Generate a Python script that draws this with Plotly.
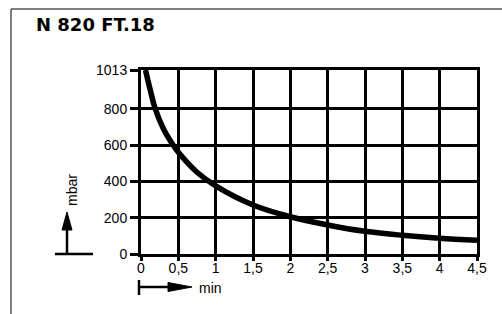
import plotly.graph_objects as go

# data
time_min = [0.06, 0.12, 0.19, 0.3, 0.43, 0.5, 0.75, 1.0, 1.5, 2.0, 2.5, 3.0, 3.5, 4.0, 4.5]
pressure_mbar = [1013, 910, 800, 690, 600, 560, 450, 375, 270, 205, 160, 125, 103, 87, 76]
x_ticks = [0, 0.5, 1, 1.5, 2, 2.5, 3, 3.5, 4, 4.5]
x_ticklabels = ["0", "0,5", "1", "1,5", "2", "2,5", "3", "3,5", "4", "4,5"]
y_ticks = [0, 200, 400, 600, 800, 1013]
y_ticklabels = ["0", "200", "400", "600", "800", "1013"]

W, H = 502, 314
L, R, T, B = 141, 25, 70, 60
PW, PH = W - L - R, H - T - B

def px(x):
    return (x - L) / PW

def py(y):
    return (H - B - y) / PH

FONT = "Liberation Sans, Arial, sans-serif"

fig = go.Figure()
fig.add_trace(go.Scatter(x=time_min, y=pressure_mbar, mode="lines",
                         line=dict(color="black", width=5.5, shape="spline", smoothing=1.0),
                         hoverinfo="skip", cliponaxis=True))

axis_common = dict(showgrid=True, gridcolor="black", gridwidth=3, showline=True,
                   linecolor="black", linewidth=3, mirror=True, zeroline=False,
                   ticks="outside", tickcolor="black", tickwidth=3,
                   tickfont=dict(family=FONT, size=14, color="black"))

fig.update_xaxes(range=[0, 4.5], tickmode="array", tickvals=x_ticks, ticktext=x_ticklabels,
                 ticklen=4, ticklabelstandoff=-5, **axis_common)
fig.update_yaxes(range=[0, 1013], tickmode="array", tickvals=y_ticks, ticktext=y_ticklabels,
                 ticklen=8, **axis_common)

shapes = []
frame = dict(color="#555555", width=1.5)
# outer frame
shapes.append(dict(type="line", xref="paper", yref="paper", x0=px(11), x1=px(502), y0=py(9), y1=py(9), line=frame))
shapes.append(dict(type="line", xref="paper", yref="paper", x0=px(11), x1=px(11), y0=py(9), y1=py(314), line=frame))

blk = dict(color="black", width=2.5)
# y-axis arrow
shapes.append(dict(type="line", xref="paper", yref="paper", x0=px(55), x1=px(93), y0=py(254), y1=py(254), line=blk))
shapes.append(dict(type="line", xref="paper", yref="paper", x0=px(67), x1=px(67), y0=py(254), y1=py(229), line=blk))
shapes.append(dict(type="path", xref="paper", yref="paper",
                   path=f"M {px(62)},{py(230)} L {px(72)},{py(230)} L {px(67)},{py(212)} Z",
                   fillcolor="black", line=dict(color="black", width=1)))
# x-axis arrow
shapes.append(dict(type="line", xref="paper", yref="paper", x0=px(139), x1=px(139), y0=py(280), y1=py(295), line=blk))
shapes.append(dict(type="line", xref="paper", yref="paper", x0=px(139), x1=px(170), y0=py(287), y1=py(287), line=blk))
shapes.append(dict(type="path", xref="paper", yref="paper",
                   path=f"M {px(168)},{py(282.5)} L {px(168)},{py(291.5)} L {px(192)},{py(287)} Z",
                   fillcolor="black", line=dict(color="black", width=1)))

annotations = [
    dict(text="<b>N 820 FT.18</b>", xref="paper", yref="paper", x=px(34), y=py(24),
         xanchor="left", yanchor="middle", showarrow=False,
         font=dict(family="DejaVu Sans, sans-serif", size=18, color="black")),
    dict(text="mbar", xref="paper", yref="paper", x=px(72), y=py(190), textangle=-90,
         xanchor="center", yanchor="middle", showarrow=False,
         font=dict(family=FONT, size=14, color="black")),
    dict(text="min", xref="paper", yref="paper", x=px(197), y=py(288),
         xanchor="left", yanchor="middle", showarrow=False,
         font=dict(family=FONT, size=14, color="black")),
]

fig.update_layout(width=W, height=H, margin=dict(l=L, r=R, t=T, b=B, pad=0),
                  plot_bgcolor="white", paper_bgcolor="white", showlegend=False,
                  shapes=shapes, annotations=annotations)

fig.write_html("out.html", config={"displayModeBar": False},
               post_script="document.body.style.margin='0';document.body.style.overflow='hidden';")
